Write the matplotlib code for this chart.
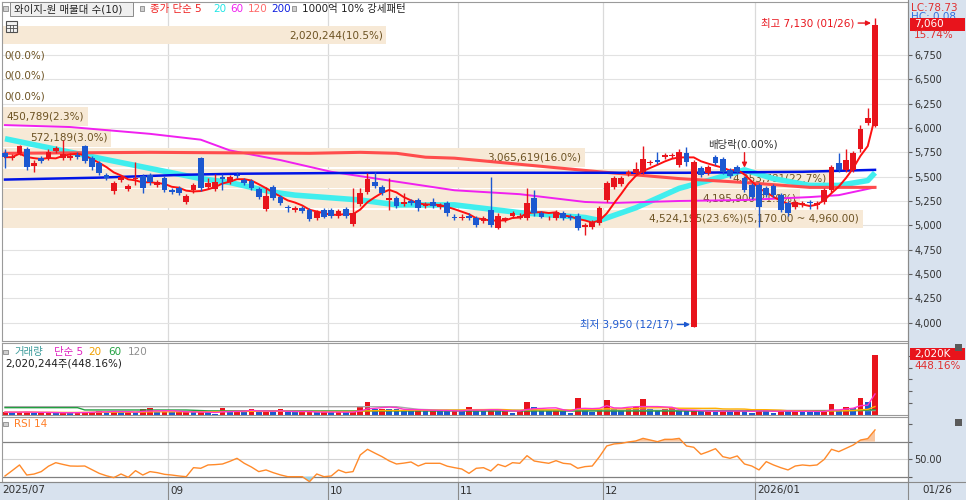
import numpy as np
import pandas as pd
import matplotlib
matplotlib.use('Agg')
import matplotlib.pyplot as plt
from matplotlib.patches import Rectangle
from matplotlib.lines import Line2D
from matplotlib.transforms import blended_transform_factory, offset_copy

plt.rcParams['font.family'] = ['DejaVu Sans', 'Noto Sans CJK KR']
plt.rcParams['axes.unicode_minus'] = False

# ---------------- data ----------------
opens = [5740, 5690, 5740, 5780, 5610, 5690, 5690, 5760, 5690, 5690,
         5720, 5820, 5690, 5640, 5520, 5350, 5470, 5370, 5480, 5510,
         5520, 5410, 5490, 5360, 5380, 5240, 5360, 5690, 5390, 5370,
         5500, 5450, 5520, 5470, 5460, 5370, 5170, 5390, 5290, 5190,
         5160, 5180, 5160, 5070, 5160, 5160, 5100, 5170, 5010, 5220,
         5340, 5450, 5390, 5260, 5280, 5220, 5250, 5260, 5200, 5240,
         5190, 5230, 5090, 5070, 5100, 5080, 5040, 5160, 4970, 5050,
         5100, 5080, 5070, 5280, 5130, 5070, 5070, 5130, 5090, 5100,
         4980, 4980, 5020, 5260, 5390, 5420, 5530, 5540, 5550, 5640,
         5670, 5700, 5710, 5620, 5740, 3960, 5590, 5540, 5700, 5680,
         5570, 5600, 5490, 5410, 5410, 5380, 5400, 5310, 5230, 5190,
         5210, 5240, 5210, 5240, 5360, 5640, 5570, 5570, 5780, 6050,
         6020]
highs = [5780, 5730, 5830, 5800, 5670, 5710, 5780, 5820, 5880, 5740,
         5750, 5830, 5710, 5660, 5540, 5460, 5520, 5420, 5650, 5530,
         5540, 5470, 5510, 5380, 5400, 5320, 5430, 5700, 5490, 5530,
         5530, 5520, 5550, 5490, 5480, 5390, 5390, 5410, 5310, 5210,
         5200, 5200, 5180, 5160, 5180, 5180, 5170, 5190, 5380, 5380,
         5540, 5550, 5410, 5490, 5300, 5330, 5270, 5280, 5240, 5280,
         5230, 5250, 5120, 5120, 5130, 5100, 5100, 5500, 5130, 5090,
         5150, 5130, 5380, 5360, 5150, 5100, 5160, 5150, 5120, 5130,
         5020, 5050, 5200, 5460, 5510, 5510, 5570, 5650, 5810, 5670,
         5750, 5740, 5740, 5780, 5800, 5670, 5610, 5620, 5720, 5700,
         5590, 5620, 5510, 5430, 5430, 5400, 5420, 5330, 5250, 5260,
         5250, 5260, 5250, 5380, 5620, 5740, 5780, 5760, 6030, 6210,
         7130]
lows = [5590, 5670, 5720, 5570, 5550, 5640, 5670, 5740, 5670, 5670,
        5680, 5640, 5570, 5520, 5470, 5320, 5450, 5350, 5410, 5330,
        5410, 5390, 5340, 5320, 5310, 5220, 5330, 5350, 5370, 5350,
        5360, 5420, 5490, 5410, 5360, 5270, 5150, 5260, 5210, 5140,
        5140, 5130, 5040, 5050, 5070, 5080, 5080, 5080, 4990, 5200,
        5320, 5380, 5310, 5160, 5180, 5200, 5210, 5150, 5180, 5180,
        5170, 5100, 5050, 5050, 5050, 4980, 5020, 4980, 4960, 5030,
        5080, 5060, 5050, 5100, 5070, 5050, 5050, 5050, 5050, 4950,
        4900, 4960, 5000, 5240, 5370, 5400, 5510, 5520, 5530, 5620,
        5630, 5680, 5690, 5600, 5610, 3950, 5500, 5520, 5620, 5530,
        5490, 5530, 5340, 5270, 4980, 5290, 5290, 5140, 5100, 5170,
        5190, 5170, 5170, 5220, 5340, 5550, 5550, 5550, 5750, 6030,
        6010]
closes = [5700, 5700, 5810, 5600, 5640, 5660, 5750, 5790, 5730, 5710,
          5700, 5660, 5600, 5540, 5490, 5430, 5500, 5400, 5490, 5380,
          5450, 5450, 5360, 5340, 5330, 5300, 5410, 5380, 5430, 5450,
          5480, 5500, 5510, 5430, 5380, 5290, 5300, 5280, 5230, 5180,
          5180, 5150, 5060, 5140, 5090, 5100, 5150, 5100, 5130, 5330,
          5480, 5400, 5330, 5280, 5200, 5240, 5230, 5180, 5220, 5200,
          5210, 5130, 5070, 5090, 5070, 5000, 5080, 5000, 5100, 5070,
          5130, 5100, 5230, 5130, 5090, 5080, 5140, 5070, 5070, 4970,
          5000, 5030, 5180, 5430, 5490, 5490, 5550, 5580, 5680, 5650,
          5650, 5720, 5720, 5750, 5650, 5650, 5520, 5600, 5640, 5550,
          5510, 5550, 5360, 5290, 5190, 5310, 5310, 5160, 5130, 5240,
          5230, 5230, 5230, 5360, 5600, 5570, 5670, 5740, 5990, 6100,
          7060]
volumes_k = [100, 90, 100, 110, 75, 75, 80, 75, 80, 75,
             80, 110, 110, 150, 85, 150, 85, 90, 85, 190,
             220, 110, 110, 105, 110, 110, 85, 90, 85, 50,
             220, 130, 130, 125, 190, 110, 115, 110, 190, 100,
             95, 100, 110, 90, 100, 95, 100, 90, 110, 280,
             450, 200, 205, 200, 190, 170, 150, 200, 140, 145,
             140, 135, 140, 135, 280, 140, 135, 200, 125, 140,
             80, 130, 450, 280, 170, 150, 155, 130, 80, 560,
             200, 110, 190, 510, 190, 170, 250, 280, 530, 190,
             170, 190, 225, 130, 125, 130, 125, 130, 125, 140,
             130, 135, 130, 80, 200, 140, 80, 140, 130, 135,
             130, 110, 105, 130, 360, 140, 280, 230, 560, 450.786,
             2020.244]
rsi14 = [30.8, 37.0, 43.4, 31.9, 33.0, 35.8, 42.0, 46.0, 44.0, 42.2,
         42.0, 42.2, 38.0, 33.8, 31.0, 28.9, 33.1, 29.3, 36.9, 31.9,
         35.8, 34.6, 32.7, 31.9, 30.8, 30.0, 40.3, 39.6, 43.4, 43.8,
         44.5, 47.5, 51.0, 45.3, 41.0, 35.8, 37.7, 34.6, 32.0, 30.0,
         30.0, 30.0, 24.3, 33.1, 30.0, 30.8, 37.7, 34.6, 35.8, 54.8,
         61.3, 57.0, 52.9, 48.0, 44.5, 45.5, 46.8, 42.2, 45.3, 45.3,
         45.3, 42.0, 40.3, 38.8, 33.8, 39.6, 40.3, 36.5, 44.1, 41.5,
         46.0, 45.3, 54.0, 47.9, 46.5, 45.3, 48.3, 45.3, 44.5, 39.6,
         41.5, 42.2, 52.9, 65.1, 67.4, 68.1, 69.7, 70.8, 73.8, 71.9,
         70.0, 72.7, 72.7, 73.8, 65.1, 63.6, 55.6, 58.6, 62.0, 52.9,
         51.0, 53.7, 44.5, 42.2, 37.7, 47.2, 43.4, 40.3, 37.7, 42.2,
         43.4, 42.6, 43.4, 49.8, 61.3, 58.6, 62.4, 66.2, 71.9, 73.5,
         83.4]

# longer moving averages (index, value)
ma20_idx = [0, 13, 27, 31, 37, 40, 49, 54, 62, 71, 80, 82, 87, 93, 97, 102, 106, 111, 115, 119, 120]
ma20_val = [5890, 5690, 5480, 5440, 5340, 5310, 5260, 5210, 5210, 5130, 5080, 5050, 5180, 5380, 5460,
            5570, 5480, 5410, 5410, 5460, 5540]
ma60_idx = [0, 9, 20, 27, 31, 38, 45, 53, 62, 71, 80, 84, 93, 102, 111, 115, 120]
ma60_val = [6030, 6010, 5940, 5880, 5770, 5670, 5550, 5460, 5360, 5320, 5240, 5230, 5250, 5260, 5290,
            5310, 5390]
ma120_idx = [0, 20, 42, 49, 54, 58, 62, 82, 93, 102, 111, 120]
ma120_val = [5740, 5750, 5740, 5750, 5740, 5700, 5690, 5550, 5480, 5440, 5390, 5390]
ma200_idx = [0, 13, 25, 32, 51, 61, 94, 110, 120]
ma200_val = [5470, 5490, 5520, 5530, 5540, 5540, 5540, 5550, 5570]

vma60_idx = [0, 10, 11, 25, 28, 66, 100, 118, 120]
vma60_val_k = [247, 247, 170, 168, 140, 135, 135, 150, 180]
vma120_idx = [0, 54, 57, 60, 120]
vma120_val_k = [280, 280, 190, 168, 150]

# volume profile (매물대), 10 bands from bottom to top
profile_low, profile_high = 4960, 7060
profile_vols = [4524195, 4195900, 4353781, 3065619, 572189, 450789, 0, 0, 0, 2020244]

month_idx = [0, 23, 45, 63, 83, 104]
month_labels = ['2025/07', '09', '10', '11', '12', '2026/01']
last_label = '01/26'
hi_date, lo_date = '01/26', '12/17'
exdiv_idx = 102
price_ticks = list(range(4000, 6751, 250))
change_pct = 15.74
vol_change_pct = 448.16
lc_value, hc_value = 78.73, 0.08

# ---------------- figure ----------------
W, H = 966, 500
RED = '#e8141c'
BLUE = '#1c58d0'
BAND = '#f7e9d6'
BROWN = '#6c5222'
PANEL_BG = '#d8e2ee'

fig = plt.figure(figsize=(W / 100, H / 100), dpi=100, facecolor='white')


def rect(x0, y0, x1, y1):
    return [x0 / W, 1 - y1 / H, (x1 - x0) / W, (y1 - y0) / H]


def frect(x0, y0, x1, y1, **kw):
    r = Rectangle((x0 / W, 1 - y1 / H), (x1 - x0) / W, (y1 - y0) / H,
                  transform=fig.transFigure, **kw)
    fig.add_artist(r)
    return r


def ftext(x, y, s, **kw):
    kw.setdefault('fontsize', 7.5)
    kw.setdefault('va', 'center')
    kw.setdefault('ha', 'left')
    return fig.text(x / W, 1 - y / H, s, **kw)


frect(908, 0, 966, 500, facecolor=PANEL_BG, edgecolor='none', zorder=-5)
frect(0, 481.5, 966, 500, facecolor=PANEL_BG, edgecolor='none', zorder=-5)

ax = fig.add_axes(rect(2, 2, 908, 341))
axv = fig.add_axes(rect(2, 343, 908, 415), sharex=ax)
axr = fig.add_axes(rect(2, 417, 908, 481.5), sharex=ax)

n = len(closes)
x = np.arange(n)
o = np.array(opens, float); c = np.array(closes, float)
hgh = np.array(highs, float); low = np.array(lows, float)
vol = np.array(volumes_k, float) * 1000
rsi = np.array(rsi14, float)

step_px = 7.25
x0 = -3 / step_px
ax.set_xlim(x0, x0 + 906 / step_px)
ax.set_ylim(3811, 7295)
axv.set_ylim(0, 2426e3)
axr.set_ylim(24.5, 98.2)

for a in (ax, axv, axr):
    a.set_facecolor('white')
    for s in a.spines.values():
        s.set_color('#9a9a9a')
        s.set_linewidth(0.8)
    a.tick_params(axis='x', bottom=False, labelbottom=False)
    a.yaxis.set_ticks_position('right')
    a.tick_params(axis='y', direction='out', length=3, width=0.8, color='#606060',
                  pad=1.5, labelsize=7, labelcolor='#303030')
    for m in month_idx[1:]:
        a.axvline(m - 0.5, color='#dadada', lw=0.9, zorder=0)

# ---- main price panel ----
ax.set_yticks(price_ticks)
ax.set_yticklabels([f'{t:,}' for t in price_ticks])
for t in price_ticks:
    ax.axhline(t, color='#e2e2e2', lw=0.8, zorder=0)

# volume profile bands
bt = blended_transform_factory(ax.transAxes, ax.transData)
pstep = (profile_high - profile_low) / len(profile_vols)
vmax = max(profile_vols)
vtot = sum(profile_vols)
for k, v in enumerate(profile_vols):
    b = profile_low + k * pstep
    w = v / vmax * 0.95
    if v > 0:
        ax.add_patch(Rectangle((0, b + pstep * 0.04), w, pstep * 0.92, transform=bt,
                               facecolor=BAND, edgecolor='none', zorder=1))
    lab = f'{v:,}({v / vtot * 100:.1f}%)'
    if v == vmax:
        lab += f'({b + pstep:,.2f} ~ {b:,.2f})'
    if v > 0:
        ax.text(w - 0.004, b + pstep / 2, lab, transform=bt, ha='right', va='center',
                fontsize=7.5, color=BROWN, zorder=1.5)
    else:
        ax.text(0.003, b + pstep / 2, lab, transform=bt, ha='left', va='center',
                fontsize=7.5, color=BROWN, zorder=1.5)

# moving averages
ma5 = pd.Series(c).rolling(5, min_periods=1).mean()
ax.plot(ma20_idx, ma20_val, color='#40eeee', lw=4, zorder=2, solid_capstyle='butt')
ax.plot(ma60_idx, ma60_val, color='#f020f0', lw=1.4, zorder=2.1)
ax.plot(ma120_idx, ma120_val, color='#ff4c4c', lw=2.2, zorder=2.1)
ax.plot(ma200_idx, ma200_val, color='#0014e6', lw=1.8, zorder=2.2)
ax.plot(x, ma5, color='#ff1010', lw=1.4, zorder=2.3)

# candles
up = c >= o
ccol = np.where(up, RED, BLUE)
ax.vlines(x, low, hgh, colors=ccol, lw=1.0, zorder=3)
body_b = np.minimum(o, c)
body_h = np.maximum(np.abs(c - o), 9)
ax.bar(x, body_h, bottom=body_b, width=0.8, color=ccol, edgecolor='none', zorder=3.1)

# high / low annotations
hi_i = int(np.argmax(hgh))
lo_i = int(np.argmin(low))
ax.annotate(f'최고 {int(hgh[hi_i]):,} ({hi_date})', xy=(hi_i - 0.55, hgh[hi_i]),
            xycoords=offset_copy(ax.transData, fig=fig, y=-5, units='dots'),
            xytext=(-17, 0), textcoords='offset pixels', ha='right', va='center',
            fontsize=7.5, color=RED, zorder=6,
            arrowprops=dict(arrowstyle='-|>', color=RED, lw=1.0, mutation_scale=7,
                            shrinkA=1, shrinkB=0))
ax.annotate(f'최저 {int(low[lo_i]):,} ({lo_date})', xy=(lo_i - 0.5, low[lo_i]),
            xycoords=offset_copy(ax.transData, fig=fig, y=3, units='dots'),
            xytext=(-17, 0), textcoords='offset pixels', ha='right', va='center',
            fontsize=7.5, color=BLUE, zorder=6,
            arrowprops=dict(arrowstyle='-|>', color=BLUE, lw=1.0, mutation_scale=7,
                            shrinkA=1, shrinkB=0))
# ex-dividend marker
exd_tr = offset_copy(ax.transData, fig=fig, y=8, units='dots')
ax.annotate('', xy=(exdiv_idx, hgh[exdiv_idx]), xycoords=exd_tr,
            xytext=(0, 15), textcoords='offset pixels', zorder=6,
            arrowprops=dict(arrowstyle='-|>', color=RED, lw=1.0, mutation_scale=7,
                            shrinkA=0, shrinkB=0))
ax.annotate('배당락(0.00%)', xy=(exdiv_idx, hgh[exdiv_idx]), xycoords=exd_tr,
            xytext=(-2, 23), textcoords='offset pixels', ha='center', va='center',
            fontsize=7.5, color='#303030', zorder=6)

# ---- volume panel ----
prev = np.concatenate([[0], vol[:-1]])
vcol = np.where(vol >= prev, RED, BLUE)
axv.bar(x, vol, width=0.8, color=vcol, edgecolor='none', zorder=2)
vma5 = pd.Series(vol).rolling(5, min_periods=1).mean()
vma20 = pd.Series(vol).rolling(20, min_periods=1).mean()
axv.plot(vma120_idx, np.array(vma120_val_k) * 1000, color='#a8a8a8', lw=1.0, zorder=3)
axv.plot(vma60_idx, np.array(vma60_val_k) * 1000, color='#22a040', lw=1.0, zorder=3)
axv.plot(x, vma20, color='#ffb000', lw=1.0, zorder=3)
axv.plot(x, vma5, color='#ff33cc', lw=1.0, zorder=3)
axv.set_yticks([400e3, 800e3, 1200e3, 1600e3, 2000e3])
axv.set_yticklabels([])

# ---- RSI panel ----
axr.axhline(50, color='#d4d4d4', lw=0.8, zorder=1)
axr.axhline(70, color='#808080', lw=0.9, zorder=1)
axr.axhline(30, color='#808080', lw=0.9, zorder=1)
axr.fill_between(x, rsi, 70, where=rsi >= 70, interpolate=True, color='#f9c6a0', lw=0, zorder=1.5)
axr.fill_between(x, rsi, 30, where=rsi <= 30, interpolate=True, color='#9cd2e6', lw=0, zorder=1.5)
axr.plot(x, rsi, color='#ff8a2a', lw=1.0, zorder=2)
axr.set_yticks([30, 50, 70, 90])
axr.set_yticklabels(['', '50.00', '', ''])

# ---- x axis band ----
xb = blended_transform_factory(axr.transData, fig.transFigure)
for m, lab in zip(month_idx, month_labels):
    if m == 0:
        axr.text(x0 + 0.1, 1 - 490.5 / H, lab, transform=xb, ha='left', va='center',
                 fontsize=7.5, color='#303030', clip_on=False)
    else:
        fig.add_artist(Line2D([m - 0.5, m - 0.5], [0, 18.5 / H], transform=xb,
                              color='#8a8a8a', lw=0.8))
        axr.text(m - 0.5 + 0.3, 1 - 490.5 / H, lab, transform=xb, ha='left', va='center',
                 fontsize=7.5, color='#303030', clip_on=False)
ftext(937, 490.5, last_label, ha='center', color='#303030')
fig.add_artist(Line2D([908 / W, 908 / W], [0, 1], transform=fig.transFigure,
                      color='#8a8a8a', lw=0.8))
fig.add_artist(Line2D([0, 1], [18.5 / H, 18.5 / H], transform=fig.transFigure,
                      color='#8a8a8a', lw=0.8))

# ---- top legend (price panel) ----
frect(3, 6.5, 7.5, 11, facecolor='#cfcfcf', edgecolor='#8a8a8a', lw=0.6, zorder=4)
frect(10, 2.5, 133, 16, facecolor='#efefef', edgecolor='#8a8a8a', lw=0.7, zorder=4)
ftext(14, 9.3, '와이지-원 매물대 수(10)', color='#202020', zorder=5)
frect(139.5, 6.5, 144, 11, facecolor='#cfcfcf', edgecolor='#8a8a8a', lw=0.6, zorder=4)
ftext(150, 9.3, '종가 단순 5', color='#ee2020', zorder=5)
ftext(213, 9.3, '20', color='#22e6e6', zorder=5)
ftext(230, 9.3, '60', color='#f020f0', zorder=5)
ftext(248, 9.3, '120', color='#ff6a6a', zorder=5)
ftext(271, 9.3, '200', color='#1020e0', zorder=5)
frect(291.5, 6.5, 296, 11, facecolor='#cfcfcf', edgecolor='#8a8a8a', lw=0.6, zorder=4)
ftext(302, 9.3, '1000억 10% 강세패턴', color='#202020', zorder=5)

# grid icon
frect(6, 21, 17, 32, facecolor='#f2f2f2', edgecolor='#505050', lw=0.8, zorder=4)
for yy in (24.5, 28.2):
    fig.add_artist(Line2D([6 / W, 17 / W], [1 - yy / H] * 2, transform=fig.transFigure,
                          color='#505050', lw=0.6, zorder=5))
for xx in (9.7, 13.3):
    fig.add_artist(Line2D([xx / W] * 2, [1 - 24.5 / H, 1 - 32 / H], transform=fig.transFigure,
                          color='#505050', lw=0.6, zorder=5))

# ---- right side price info ----
ftext(911, 8, f'LC:{lc_value:.2f}', color='#e03030', zorder=3)
ftext(911, 17, f'HC: {hc_value:.2f}', color='#3070e0', zorder=3)
frect(910, 18.5, 965, 30.5, facecolor='#e8141c', edgecolor='none', zorder=4)
ftext(914, 24.5, f'{int(c[-1]):,}', color='white', zorder=5)
ftext(914, 35, f'{change_pct:.2f}%', color='#e03030', zorder=5)

# ---- volume legend / info ----
frect(3, 349.5, 7.5, 354, facecolor='#cfcfcf', edgecolor='#8a8a8a', lw=0.6, zorder=4)
ftext(14, 352, '거래량', color='#3a9a9a', zorder=5)
ftext(54, 352, '단순 5', color='#e020c0', zorder=5)
ftext(88, 352, '20', color='#f0a000', zorder=5)
ftext(108, 352, '60', color='#20a040', zorder=5)
ftext(128, 352, '120', color='#909090', zorder=5)
ftext(5, 364, f'{int(vol[-1]):,}주({vol_change_pct:.2f}%)', color='#202020', zorder=5)
frect(910, 348, 965, 360, facecolor='#e8141c', edgecolor='none', zorder=4)
ftext(914, 354, f'{vol[-1] / 1000:,.0f}K', color='white', zorder=5)
ftext(914, 366, f'{vol_change_pct:.2f}%', color='#e03030', zorder=5)
frect(955, 343.5, 962, 350.5, facecolor='#5a5a5a', edgecolor='none', zorder=4)

# ---- RSI legend ----
frect(3, 421.5, 7.5, 426, facecolor='#cfcfcf', edgecolor='#8a8a8a', lw=0.6, zorder=4)
ftext(14, 424, 'RSI 14', color='#ff7f27', zorder=5)
frect(955, 419, 962, 426, facecolor='#5a5a5a', edgecolor='none', zorder=4)

fig.savefig('out.png', dpi=100, facecolor='white')
